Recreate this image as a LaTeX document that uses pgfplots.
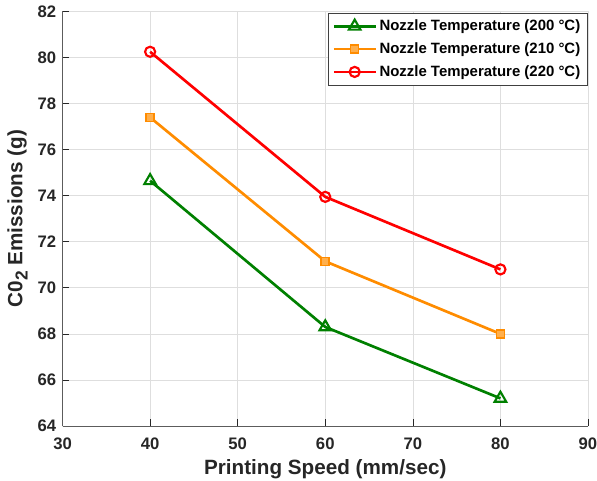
\documentclass[border=0pt]{standalone}
\usepackage{fontspec}
\setmainfont{Liberation Sans}
\usepackage{pgfplots}
\pgfplotsset{compat=1.18}
\definecolor{tickc}{RGB}{38,38,38}
\definecolor{gr}{RGB}{0,128,0}
\definecolor{orng}{RGB}{255,140,0}
\begin{document}
\begin{tikzpicture}
\useasboundingbox (-46.9pt,-40.5pt) rectangle (400.85pt,319.5pt);
\begin{axis}[
  at={(0,0)}, anchor=south west,
  scale only axis,
  width=394.1pt, height=310.9pt,
  xmin=30, xmax=90, ymin=64, ymax=82,
  xtick={30,40,...,90}, ytick={64,66,...,82},
  axis x line*=bottom, axis y line*=left,
  axis line style={draw=tickc!75, line width=0.6pt, -},
  tick style={draw=tickc, line width=0.5pt},
  tick align=inside,
  major tick length=5pt,
  grid=major,
  grid style={draw=black!13, line width=0.5pt},
  ticklabel style={font=\fontsize{12.5}{14}\selectfont\bfseries, text=tickc, inner sep=0.5pt},
  xticklabel style={yshift=-8pt},
  yticklabel style={xshift=-4pt},
  /pgf/number format/assume math mode=true,
  xlabel={\textbf{Printing Speed (mm/sec)}},
  ylabel={\textbf{C0\raisebox{-4pt}{\fontsize{13}{13}\selectfont 2} Emissions (g)}},
  label style={font=\fontsize{15.5}{17}\selectfont, text=tickc, inner sep=1pt},
  xlabel style={at={(rel axis cs:0.5,0)}, anchor=north, yshift=-24pt},
  ylabel style={at={(rel axis cs:0,0.5)}, anchor=south, yshift=25pt},
  legend style={at={(1,1)}, anchor=north east, xshift=-0.5pt, yshift=-1pt,
    font=\fontsize{11.2}{13}\selectfont\bfseries, draw=black!75, line width=0.6pt,
    row sep=3.5pt, inner sep=3pt},
  legend cell align=left,
  legend image code/.code={\draw[mark repeat=2,mark phase=2] plot coordinates {(0cm,0cm) (0.55cm,0cm) (1.1cm,0cm)};},
  every axis plot/.append style={line width=2pt},
]
\addplot[color=gr, mark=triangle, mark size=5pt, mark options={line width=1.6pt, fill=white}] coordinates {(40,74.65) (60,68.3) (80,65.2)};
\addlegendentry{Nozzle Temperature (200 °C)}
\addplot[color=orng, mark=square*, mark size=3pt, mark options={line width=1.2pt, fill=orng!70}] coordinates {(40,77.4) (60,71.15) (80,68.0)};
\addlegendentry{Nozzle Temperature (210 °C)}
\addplot[color=red, mark=o, mark size=3.8pt, mark options={line width=1.6pt, fill=white}] coordinates {(40,80.25) (60,73.95) (80,70.8)};
\addlegendentry{Nozzle Temperature (220 °C)}
\end{axis}
\end{tikzpicture}
\end{document}
